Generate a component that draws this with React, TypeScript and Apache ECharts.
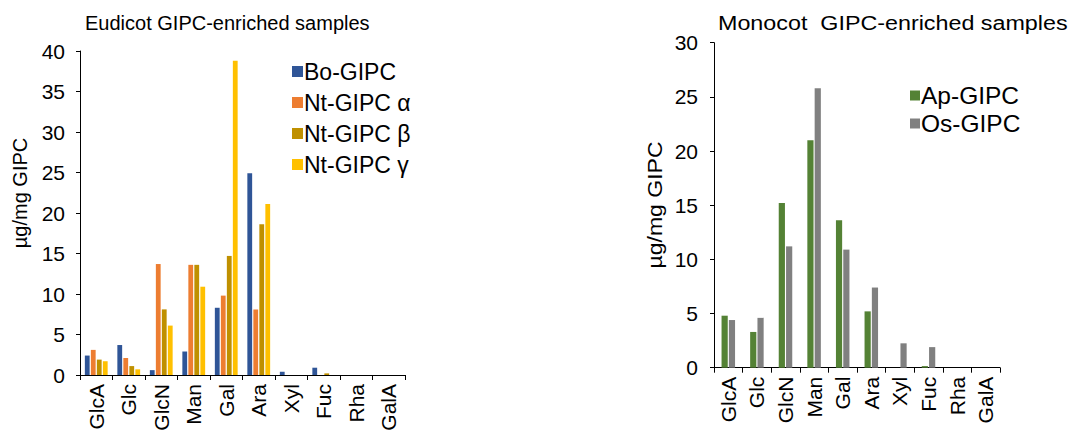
import React, { useEffect, useRef } from 'react';
import * as echarts from 'echarts';

const categories = ['GlcA', 'Glc', 'GlcN', 'Man', 'Gal', 'Ara', 'Xyl', 'Fuc', 'Rha', 'GalA'];

// Eudicot GIPC-enriched samples (µg/mg GIPC)
const boGIPC = [2.4, 3.7, 0.6, 2.9, 8.3, 24.9, 0.4, 0.9, 0, 0];
const ntGIPCAlpha = [3.1, 2.1, 13.7, 13.6, 9.8, 8.1, 0, 0, 0, 0];
const ntGIPCBeta = [1.9, 1.1, 8.1, 13.6, 14.7, 18.6, 0, 0.2, 0, 0];
const ntGIPCGamma = [1.7, 0.7, 6.1, 10.9, 38.8, 21.1, 0, 0, 0, 0];

// Monocot GIPC-enriched samples (µg/mg GIPC)
const apGIPC = [4.8, 3.3, 15.2, 21.0, 13.6, 5.2, 0, 0.15, 0, 0];
const osGIPC = [4.4, 4.6, 11.2, 25.8, 10.9, 7.4, 2.25, 1.9, 0, 0];

const leftSeriesNames = ['Bo-GIPC', 'Nt-GIPC α', 'Nt-GIPC β', 'Nt-GIPC γ'];
const rightSeriesNames = ['Ap-GIPC', 'Os-GIPC'];

const leftTitle = 'Eudicot GIPC-enriched samples';
const rightTitle = 'Monocot  GIPC-enriched samples';
const yAxisName = 'µg/mg GIPC';

const FONT = '"Liberation Sans", Arial, Helvetica, sans-serif';

export default function App() {
  const ref = useRef<HTMLDivElement>(null);

  useEffect(() => {
    if (!ref.current) return;
    const chart = echarts.init(ref.current, null, { renderer: 'svg' });

    const bar = (name: string, data: number[], color: string, idx: number, width: number, gap: string) => ({
      type: 'bar',
      name,
      data,
      xAxisIndex: idx,
      yAxisIndex: idx,
      barWidth: width,
      barGap: gap,
      itemStyle: { color },
      emphasis: { disabled: true },
    });

    const xAxisBase = (gridIndex: number) => ({
      type: 'category',
      gridIndex,
      data: categories,
      axisLine: { lineStyle: { color: '#000', width: 1 } },
      axisTick: { show: true, length: 5, lineStyle: { color: '#000' } },
      axisLabel: { rotate: 90, fontSize: 21, color: '#000', fontFamily: FONT, margin: 9, interval: 0 },
      splitLine: { show: false },
    });

    const yAxisBase = (gridIndex: number, max: number, margin: number) => ({
      type: 'value',
      gridIndex,
      min: 0,
      max,
      interval: 5,
      axisLine: { show: true, lineStyle: { color: '#000', width: 1 } },
      axisTick: { show: true, length: 4, lineStyle: { color: '#000' } },
      axisLabel: { fontSize: 21, color: '#000', fontFamily: FONT, margin },
      splitLine: { show: false },
    });

    chart.setOption({
      animation: false,
      backgroundColor: '#fff',
      textStyle: { fontFamily: FONT },
      grid: [
        { left: 80, top: 51, width: 325, height: 324 },
        { left: 714, top: 42.7, width: 286, height: 325 },
      ],
      xAxis: [xAxisBase(0), xAxisBase(1)],
      yAxis: [yAxisBase(0, 40, 15), yAxisBase(1, 30, 16)],
      legend: [
        {
          data: leftSeriesNames,
          orient: 'vertical',
          left: 287,
          top: 55,
          itemWidth: 11,
          itemHeight: 11,
          itemGap: 8,
          icon: 'rect',
          selectedMode: false,
          textStyle: { fontSize: 23, color: '#000', fontFamily: FONT, lineHeight: 23, padding: [0, 0, 0, -4] },
        },
        {
          data: rightSeriesNames,
          orient: 'vertical',
          left: 905,
          top: 78,
          itemWidth: 10,
          itemHeight: 10,
          itemGap: 3,
          icon: 'rect',
          selectedMode: false,
          textStyle: { fontSize: 24.5, color: '#000', fontFamily: FONT, lineHeight: 24, padding: [0, 0, 0, -4] },
        },
      ],
      graphic: [
        {
          type: 'text',
          x: 85,
          y: 23,
          style: { text: leftTitle, fontSize: 20, fontFamily: FONT, fill: '#000', align: 'left', verticalAlign: 'middle' },
        },
        {
          type: 'text',
          x: 718,
          y: 23,
          scaleX: 1.11,
          style: { text: rightTitle, fontSize: 21, fontFamily: FONT, fill: '#000', align: 'left', verticalAlign: 'middle' },
        },
        {
          type: 'text',
          x: 20,
          y: 193,
          rotation: Math.PI / 2,
          style: { text: yAxisName, fontSize: 20, fontFamily: FONT, fill: '#000', align: 'center', verticalAlign: 'middle' },
        },
        {
          type: 'text',
          x: 655,
          y: 205,
          rotation: Math.PI / 2,
          scaleX: 1.15,
          style: { text: yAxisName, fontSize: 20, fontFamily: FONT, fill: '#000', align: 'center', verticalAlign: 'middle' },
        },
      ],
      series: [
        bar(leftSeriesNames[0], boGIPC, '#2F5597', 0, 4.8, '25%'),
        bar(leftSeriesNames[1], ntGIPCAlpha, '#ED7D31', 0, 4.8, '25%'),
        bar(leftSeriesNames[2], ntGIPCBeta, '#BF9000', 0, 4.8, '25%'),
        bar(leftSeriesNames[3], ntGIPCGamma, '#FFC000', 0, 4.8, '25%'),
        bar(rightSeriesNames[0], apGIPC, '#548235', 1, 6.2, '18%'),
        bar(rightSeriesNames[1], osGIPC, '#808080', 1, 6.2, '18%'),
      ],
    });

    return () => chart.dispose();
  }, []);

  return <div ref={ref} style={{ position: 'fixed', left: 0, top: 0, width: 1082, height: 437 }} />;
}
